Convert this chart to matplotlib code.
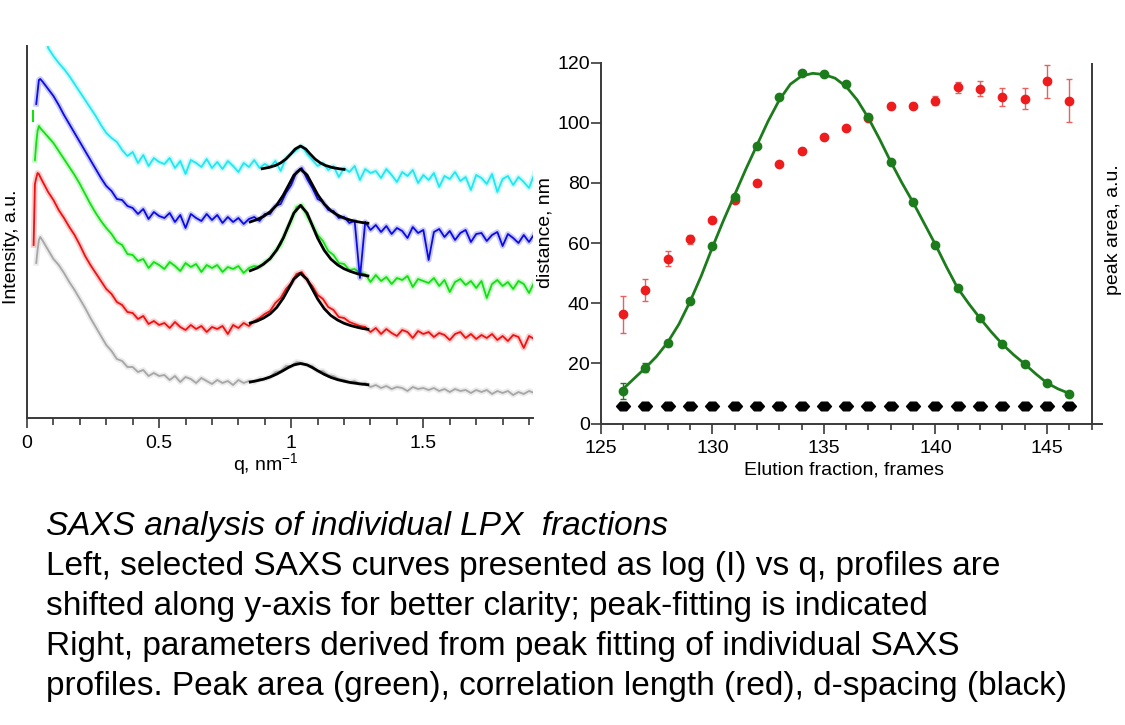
import numpy as np
import matplotlib
matplotlib.use("Agg")
import matplotlib.pyplot as plt
from matplotlib.ticker import MultipleLocator, FixedLocator
from matplotlib.path import Path

plt.rcParams['font.family'] = ['Liberation Sans', 'DejaVu Sans']
plt.rcParams['mathtext.fontset'] = 'custom'
plt.rcParams['mathtext.rm'] = 'Liberation Sans'

nan = np.nan

# ---------------- left panel data (q grid, heights in a.u.) ----------------
q_head = [0.025, 0.03, 0.035, 0.04, 0.045, 0.05, 0.06, 0.08, 0.10]
q_tail = list(np.round(np.arange(0.12, 1.921, 0.02), 3))
q_vals = q_head + q_tail

cyan_I = [nan, nan, nan, nan, nan, 420, 400, 370, 362,
          355, 349, 342, 334, 326, 318, 310, 302, 293, 285,
          280, 276, 268, 262, 266, 255, 263, 252, 260, 256,
          254, 260, 250, 257, 244, 258, 255, 251, 259, 250,
          256, 249, 257, 252, 246, 255, 251, 258, 250, 254,
          251, 257, 247, 260, 264, 268, 272, 264, 258, 252,
          255, 248, 252, 241, 250, 246, 252, 238, 249, 245,
          247, 240, 249, 243, 236, 246, 242, 248, 235, 243,
          238, 245, 231, 242, 239, 246, 237, 241, 228, 243,
          240, 234, 244, 226, 239, 242, 233, 241, 236, 230,
          244]
blue_I = [nan, nan, 314, 326, 338, 339, 336, 329, 322,
          313, 303, 294, 285, 276, 267, 258, 249, 240, 232,
          227, 219, 218, 212, 210, 204, 209, 199, 206, 202,
          200, 205, 196, 203, 190, 204, 200, 197, 204, 198,
          203, 195, 201, 196, 200, 194, 199, 201, 197, 204,
          204, 212, 214, 225, 233, 246, 250, 239, 230, 219,
          216, 208, 207, 200, 201, 195, 197, 140, 196, 188,
          193, 186, 192, 184, 190, 187, 180, 191, 185, 188,
          158, 186, 189, 181, 187, 178, 185, 188, 176, 184,
          185, 177, 183, 186, 172, 184, 180, 175, 183, 176,
          184]
green_I = [nan, 258, 275, 287, 292, 290, 287, 281, 275,
           267, 259, 251, 243, 234, 224, 214, 205, 197, 190,
           184, 176, 173, 164, 163, 157, 159, 150, 156, 153,
           149, 156, 152, 147, 155, 151, 154, 146, 153, 150,
           153, 146, 151, 149, 152, 145, 150, 152, 151, 156,
           159, 167, 173, 186, 197, 211, 213, 202, 193, 183,
           177, 167, 163, 155, 154, 148, 149, 145, 144, 136,
           143, 137, 141, 134, 140, 138, 142, 131, 139, 137,
           135, 140, 132, 138, 126, 136, 139, 133, 137, 130,
           137, 120, 134, 138, 132, 136, 129, 137, 134, 125,
           136]
green_spike_q = [0.022, 0.022]
green_spike_I = [297, 307]
red_I = [173, 234, 240, 245, 244, 241, 236, 226, 218,
         208, 200, 191, 183, 173, 162, 153, 145, 137, 129,
         124, 116, 113, 106, 105, 99, 102, 94, 97, 93,
         95, 90, 96, 91, 88, 93, 89, 92, 86, 91,
         89, 92, 84, 93, 90, 95, 92, 97, 100, 104,
         107, 115, 120, 129, 135, 144, 146, 138, 132, 123,
         119, 111, 108, 101, 100, 96, 94, 92, 91, 86,
         90, 84, 89, 85, 82, 88, 86, 80, 87, 84,
         86, 81, 85, 83, 78, 84, 86, 80, 84, 79,
         83, 80, 84, 78, 82, 77, 83, 81, 70, 82,
         79]
gray_I = [nan, nan, 155, 168, 178, 181, 177, 168, 159,
          153, 145, 136, 128, 119, 110, 100, 91, 82, 73,
          67, 59, 57, 51, 51, 46, 48, 42, 45, 42,
          43, 38, 42, 36, 41, 39, 35, 40, 37, 34,
          38, 35, 37, 33, 38, 35, 37, 36, 39, 39,
          41, 46, 47, 52, 52, 56, 55, 53, 52, 47,
          47, 43, 42, 39, 38, 36, 37, 34, 35, 31,
          33, 30, 32, 29, 31, 30, 27, 31, 29, 30,
          28, 30, 27, 29, 26, 29, 27, 28, 25, 28,
          26, 28, 24, 27, 25, 27, 23, 26, 24, 27,
          25]

# peak fits (black)
fit_q = [0.845, 0.87, 0.895, 0.92, 0.945, 0.97, 0.99, 1.01, 1.035, 1.06,
         1.08, 1.10, 1.125, 1.15, 1.175, 1.20, 1.225, 1.25, 1.27, 1.29]
fit_blue = [196.1, 198.4, 201.6, 206.2, 213.0, 222.9, 232.8, 242.7, 248.9, 243.0,
            233.2, 223.5, 213.9, 207.3, 202.9, 199.9, 197.8, 196.3, 195.4, 194.8]
fit_green = [147.3, 149.9, 153.8, 159.4, 168.0, 180.1, 192.6, 205.0, 212.6, 204.9,
             192.4, 179.8, 167.6, 158.9, 153.2, 149.2, 146.5, 144.3, 143.1, 142.1]
fit_red = [95.0, 96.9, 99.9, 104.1, 110.5, 119.9, 129.4, 139.0, 144.7, 138.6,
           128.8, 119.0, 109.3, 102.5, 98.0, 94.7, 92.4, 90.7, 89.5, 88.7]
fit_gray = [36.0, 37.3, 38.8, 41.0, 43.9, 47.5, 50.6, 53.1, 54.5, 53.1,
            50.4, 47.3, 43.6, 40.6, 38.4, 36.8, 35.4, 34.5, 33.8, 33.3]
fit_cyan_q = [0.89, 0.915, 0.94, 0.96, 0.98, 1.00, 1.015, 1.035, 1.055, 1.07,
              1.09, 1.11, 1.13, 1.155, 1.18, 1.20]
fit_cyan = [249.3, 250.5, 252.5, 255.1, 259.0, 264.5, 269.0, 272.0, 269.0, 264.5,
            259.0, 255.1, 252.5, 250.5, 249.3, 248.6]

# ---------------- right panel data ----------------
frames = [126, 127, 128, 129, 130, 131, 132, 133, 134, 135, 136,
          137, 138, 139, 140, 141, 142, 143, 144, 145, 146]
corr_len = [36.3, 44.4, 54.8, 61.2, 67.7, 74.3, 80.0, 86.1, 90.5, 95.2, 98.2,
            101.5, 105.4, 105.7, 107.3, 111.7, 111.2, 108.4, 107.9, 113.7, 107.3]
corr_err = [6.2, 3.6, 2.5, 1.5, 0.8, 0.6, 0.6, 0.6, 0.6, 0.6, 0.6,
            0.6, 0.8, 0.8, 1.5, 1.8, 2.5, 3.0, 3.5, 5.4, 7.2]
peak_area = [10.8, 18.5, 26.8, 40.7, 58.9, 75.4, 92.1, 108.4, 116.5, 116.2, 112.8,
             101.8, 86.8, 73.5, 59.2, 45.1, 35.2, 26.4, 19.8, 13.5, 9.9]
area_err = [2.5, 1.5, 1.0, 0.6, 0.5, 0.5, 0.5, 0.5, 0.5, 0.5, 0.5,
            0.5, 0.5, 0.5, 0.5, 0.5, 0.5, 0.5, 0.5, 0.5, 0.5]
d_spacing = [5.8, 5.8, 5.8, 5.8, 5.8, 5.8, 5.8, 5.8, 5.8, 5.8, 5.8,
             5.8, 5.8, 5.8, 5.8, 5.8, 5.8, 5.8, 5.8, 5.8, 5.8]
area_fit_x = [126, 126.5, 127, 127.5, 128, 128.5, 129, 129.5, 130, 130.5, 131,
              131.5, 132, 132.5, 133, 133.5, 134, 134.5, 135, 135.5, 136,
              136.5, 137, 137.5, 138, 138.5, 139, 139.5, 140, 140.5, 141,
              141.5, 142, 142.5, 143, 143.5, 144, 144.5, 145, 145.5, 146]
area_fit_y = [11.5, 15.0, 18.5, 22.3, 27.0, 33.0, 40.5, 49.0, 58.5, 67.5, 76.0,
              84.5, 92.5, 100.5, 107.5, 112.8, 115.5, 116.4, 116.0, 114.8, 112.0,
              107.5, 101.5, 94.5, 87.0, 80.0, 73.5, 66.5, 59.5, 52.0, 45.0,
              39.8, 35.0, 30.5, 26.4, 22.9, 19.8, 16.5, 13.5, 11.5, 10.0]

caption = [
    ("SAXS analysis of individual LPX  fractions", 'italic'),
    ("Left, selected SAXS curves presented as log (I) vs q, profiles are", 'normal'),
    ("shifted along y-axis for better clarity; peak-fitting is indicated", 'normal'),
    ("Right, parameters derived from peak fitting of individual SAXS", 'normal'),
    ("profiles. Peak area (green), correlation length (red), d-spacing (black)", 'normal'),
]

W, H = 1125, 725
fig = plt.figure(figsize=(W / 100, H / 100), dpi=100)

def fx(px):
    return px / W

def fy(py):
    return 1 - py / H

spine_col = '#3a3a3a'

# ---------------- left axes ----------------
axL = fig.add_axes([fx(27), fy(418), fx(533 - 27), (418 - 46) / H])
axL.set_xlim(0, 1.915)
axL.set_ylim(0, 372)
curves = [(gray_I, '#a6a6a6'), (red_I, '#ee1111'), (green_I, '#11e011'),
          (blue_I, '#0a0ae6'), (cyan_I, '#1ee8f0')]
for vals, col in curves:
    axL.plot(q_vals, vals, color=col, lw=4.0, alpha=0.22)
    axL.plot(q_vals, vals, color=col, lw=1.3)
axL.plot(green_spike_q, green_spike_I, color='#11e011', lw=1.5)
for fv in (fit_gray, fit_red, fit_green, fit_blue):
    axL.plot(fit_q, fv, color='black', lw=2.0)
axL.plot(fit_cyan_q, fit_cyan, color='black', lw=2.0)

for s in ('top', 'right'):
    axL.spines[s].set_visible(False)
for s in ('left', 'bottom'):
    axL.spines[s].set_color(spine_col)
    axL.spines[s].set_linewidth(1.4)
axL.set_yticks([])
axL.xaxis.set_major_locator(FixedLocator([0, 0.5, 1.0, 1.5]))
axL.xaxis.set_minor_locator(FixedLocator([0.1, 0.2, 0.3, 0.4, 0.6, 0.7, 0.8, 0.9,
                                          1.1, 1.2, 1.3, 1.4, 1.6, 1.7, 1.8, 1.9]))
axL.set_xticklabels(['0', '0.5', '1', '1.5'])
axL.tick_params(axis='x', which='major', length=7, width=1.2, color=spine_col,
                labelsize=14, pad=5, direction='out')
axL.tick_params(axis='x', which='minor', length=5, width=1.2, color=spine_col, direction='out')

fig.text(fx(12), fy(247), 'Intensity, a.u.', rotation=90, ha='center', va='center',
         fontsize=14)
fig.text(fx(266), fy(465), r'q, nm$^{\mathregular{-1}}$', ha='center', va='center',
         fontsize=14)

# ---------------- right axes ----------------
axR = fig.add_axes([fx(600.8), fy(423.5), fx(1102 - 600.8), (423.5 - 62.5) / H])
axR.set_xlim(125, 147.47)
axR.set_ylim(0, 120)
axR.errorbar(frames, corr_len, yerr=corr_err, fmt='o', color='#ee1c1c', ms=6,
             ecolor='#e86060', elinewidth=1.0, capsize=2.5, capthick=1.0, zorder=3)
axR.plot(area_fit_x, area_fit_y, color='#1c7c1c', lw=2.0, zorder=4)
axR.errorbar(frames, peak_area, yerr=area_err, fmt='o', color='#1c7c1c', ms=6,
             ecolor='#1c7c1c', elinewidth=1.0, capsize=2.5, capthick=1.0, zorder=5)
hexa = Path([(-1.0, 0.0), (-0.45, 0.62), (0.45, 0.62), (1.0, 0.0), (0.45, -0.62),
             (-0.45, -0.62), (-1.0, 0.0)],
            [Path.MOVETO] + [Path.LINETO] * 5 + [Path.CLOSEPOLY])
axR.plot(frames, d_spacing, linestyle='none', marker=hexa, ms=10, color='black', zorder=6)

for s in ('top', 'right'):
    axR.spines[s].set_visible(False)
for s in ('left', 'bottom'):
    axR.spines[s].set_color(spine_col)
    axR.spines[s].set_linewidth(1.4)
axR.axvline(147, color=spine_col, lw=1.4)
axR.xaxis.set_major_locator(FixedLocator([125, 130, 135, 140, 145]))
axR.xaxis.set_minor_locator(MultipleLocator(1))
axR.yaxis.set_major_locator(FixedLocator([0, 20, 40, 60, 80, 100, 120]))
axR.tick_params(axis='both', which='major', length=7, width=1.2, color=spine_col,
                labelsize=14, direction='out')
axR.tick_params(axis='x', which='major', pad=5)
axR.tick_params(axis='y', which='major', pad=1)
axR.tick_params(axis='x', which='minor', length=4, width=1.2, color=spine_col, direction='out')

fig.text(fx(844), fy(470), 'Elution fraction, frames', ha='center', va='center', fontsize=14)
fig.text(fx(545), fy(233), 'distance, nm', rotation=90, ha='center', va='center', fontsize=14)
fig.text(fx(1113), fy(230), 'peak area, a.u.', rotation=90, ha='center', va='center',
         fontsize=14)

# ---------------- caption ----------------
baselines = [535, 575, 615, 655, 695]
for (txt, style), yb in zip(caption, baselines):
    fig.text(fx(46), fy(yb), txt, ha='left', va='baseline', fontsize=24, style=style)

fig.savefig('out.png', dpi=100)
